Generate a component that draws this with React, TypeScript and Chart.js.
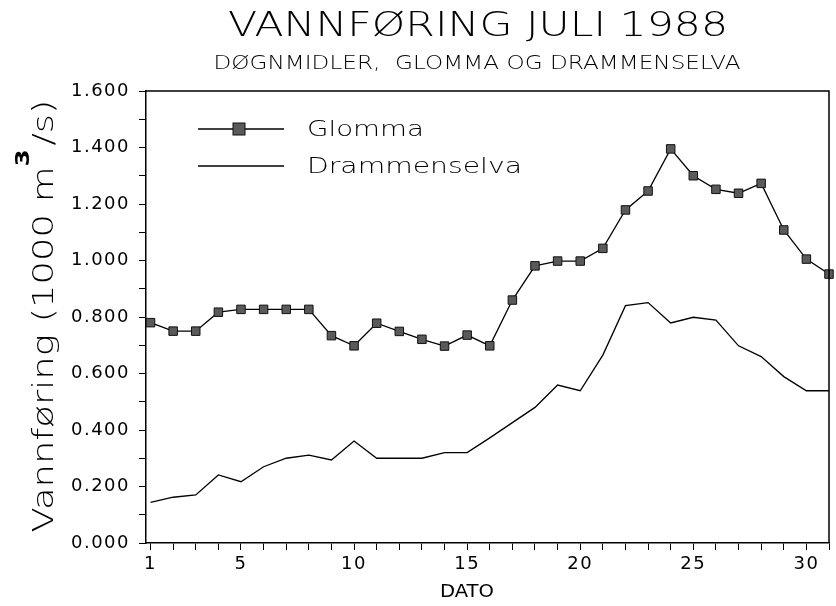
import React, { useEffect, useRef } from 'react';
import { Chart, registerables } from 'chart.js';

Chart.register(...registerables);

// ---- data ----
const days = [1, 2, 3, 4, 5, 6, 7, 8, 9, 10, 11, 12, 13, 14, 15, 16, 17, 18, 19, 20, 21, 22, 23, 24, 25, 26, 27, 28, 29, 30, 31];
const glomma = [0.78, 0.75, 0.75, 0.817, 0.827, 0.827, 0.827, 0.827, 0.734, 0.698, 0.778, 0.749, 0.721, 0.697, 0.736, 0.698, 0.86, 0.981, 0.998, 0.998, 1.043, 1.179, 1.246, 1.395, 1.3, 1.252, 1.238, 1.273, 1.108, 1.005, 0.952];
const drammenselva = [0.144, 0.162, 0.17, 0.241, 0.217, 0.27, 0.3, 0.311, 0.294, 0.361, 0.3, 0.3, 0.3, 0.32, 0.32, 0.372, 0.426, 0.48, 0.559, 0.539, 0.665, 0.84, 0.851, 0.779, 0.799, 0.789, 0.698, 0.66, 0.589, 0.539, 0.539];
const xLabelDays = [1, 5, 10, 15, 20, 25, 30];
const yTickValues = [0, 0.1, 0.2, 0.3, 0.4, 0.5, 0.6, 0.7, 0.8, 0.9, 1.0, 1.1, 1.2, 1.3, 1.4, 1.5, 1.6];
const yTickLabels = ['0.000', '0.200', '0.400', '0.600', '0.800', '1.000', '1.200', '1.400', '1.600'];
const seriesNames = ['Glomma', 'Drammenselva'];
const titleText = 'VANNFØRING JULI 1988';
const subtitleText = 'DØGNMIDLER,  GLOMMA OG DRAMMENSELVA';
const xTitleText = 'DATO';
const yTitleMain = 'Vannføring (1000 m';
const yTitleSup = '3';
const yTitleEnd = '/s)';

const FAMILY = "'DejaVu Sans', 'Liberation Sans', sans-serif";
const LIGHT = '200';

// draws text horizontally stretched to a given visual width
function fitText(ctx: CanvasRenderingContext2D, text: string, x: number, y: number, size: number, width: number, center: boolean, weight = LIGHT) {
  ctx.save();
  ctx.font = `${weight} ${size}px ${FAMILY}`;
  (ctx as any).letterSpacing = '0px';
  const w = ctx.measureText(text).width;
  const sx = width / w;
  ctx.translate(center ? x - width / 2 : x, y);
  ctx.scale(sx, 1);
  ctx.textAlign = 'left';
  ctx.textBaseline = 'middle';
  ctx.fillStyle = '#000';
  ctx.fillText(text, 0, 0);
  ctx.restore();
}

const framePlugin = {
  id: 'frame',
  beforeDraw(chart: any) {
    chart.ctx.letterSpacing = '1.5px';
  },
  afterDatasetsDraw(chart: any) {
    const { ctx, chartArea: a } = chart;
    ctx.save();
    ctx.strokeStyle = '#000';
    ctx.lineWidth = 1.5;
    ctx.beginPath();
    ctx.moveTo(a.left, a.top);
    ctx.lineTo(a.right, a.top);
    ctx.lineTo(a.right, a.bottom);
    ctx.stroke();
    ctx.restore();
  },
};

const textPlugin = {
  id: 'texts',
  afterDraw(chart: any) {
    const ctx: CanvasRenderingContext2D = chart.ctx;
    const a = chart.chartArea;
    // titles
    fitText(ctx, titleText, 478, 27, 34, 500, true);
    fitText(ctx, subtitleText, 477, 64, 19, 527, true);
    // x title
    fitText(ctx, xTitleText, 467, 593, 17, 54, true, '400');

    // y title (rotated)
    ctx.save();
    ctx.translate(53, 316);
    ctx.rotate(-Math.PI / 2);
    ctx.fillStyle = '#000';
    ctx.textAlign = 'left';
    ctx.textBaseline = 'alphabetic';
    (ctx as any).letterSpacing = '0px';
    const mainFont = `${LIGHT} 29px ${FAMILY}`;
    const supFont = `bold 19px ${FAMILY}`;
    const gap = 3;
    ctx.font = mainFont;
    const w1 = ctx.measureText(yTitleMain).width;
    const w3 = ctx.measureText(yTitleEnd).width;
    ctx.font = supFont;
    const w2 = ctx.measureText(yTitleSup).width + gap;
    const total = 433;
    const sx = total / (w1 + w2 + w3);
    ctx.translate(-total / 2, 0);
    ctx.scale(sx, 1);
    let u = 0;
    ctx.font = mainFont;
    ctx.fillText(yTitleMain, u, 0);
    u += w1;
    ctx.font = supFont;
    ctx.fillText(yTitleSup, u, -24);
    u += w2;
    ctx.font = mainFont;
    ctx.fillText(yTitleEnd, u, 0);
    ctx.restore();

    // legend
    const ds = chart.data.datasets;
    const legendX0 = a.left + 52;
    const legendX1 = a.left + 138;
    const legendTextX = a.left + 161;
    const legendWidths = [117, 215];
    ds.forEach((d: any, i: number) => {
      const y = a.top + 38 + i * 37;
      ctx.save();
      ctx.strokeStyle = d.borderColor;
      ctx.lineWidth = d.borderWidth;
      ctx.beginPath();
      ctx.moveTo(legendX0, y);
      ctx.lineTo(legendX1, y);
      ctx.stroke();
      if (d.pointRadius > 0) {
        const s = 12;
        const cx = (legendX0 + legendX1) / 2 - 2;
        ctx.fillStyle = d.pointBackgroundColor;
        ctx.strokeStyle = d.pointBorderColor;
        ctx.lineWidth = 1;
        ctx.fillRect(cx - s / 2, y - s / 2, s, s);
        ctx.strokeRect(cx - s / 2, y - s / 2, s, s);
      }
      ctx.restore();
      fitText(ctx, d.label, legendTextX, y + 1, 22, legendWidths[i], false);
    });
  },
};

export default function App() {
  const ref = useRef<HTMLCanvasElement>(null);
  useEffect(() => {
    document.body.style.margin = '0';
    const tickFont = { family: FAMILY, size: 18, weight: '400' as any };
    const chart = new Chart(ref.current as HTMLCanvasElement, {
      type: 'line',
      data: {
        datasets: [
          {
            label: seriesNames[0],
            data: days.map((d, i) => ({ x: d, y: glomma[i] })),
            borderColor: '#000',
            borderWidth: 1.3,
            pointStyle: 'rect',
            pointRadius: 6,
            pointBackgroundColor: '#5a5a5a',
            pointBorderColor: '#111',
            pointBorderWidth: 1,
            tension: 0,
            clip: false as any,
          },
          {
            label: seriesNames[1],
            data: days.map((d, i) => ({ x: d, y: drammenselva[i] })),
            borderColor: '#000',
            borderWidth: 1.3,
            pointRadius: 0,
            tension: 0,
            clip: false as any,
          },
        ],
      },
      options: {
        responsive: false,
        animation: false,
        layout: { padding: { top: 91, right: 2, left: 0, bottom: 0 } },
        plugins: {
          legend: { display: false },
          title: { display: false },
          tooltip: { enabled: false },
        },
        scales: {
          x: {
            type: 'linear',
            min: 0.8,
            max: 31,
            afterBuildTicks: (s: any) => {
              s.ticks = days.map((d) => ({ value: d }));
            },
            afterFit: (s: any) => {
              s.height = 63;
            },
            grid: { drawOnChartArea: false, drawTicks: true, tickLength: 7, color: '#000', lineWidth: 1 },
            border: { display: true, color: '#000', width: 1.5 },
            ticks: {
              autoSkip: false,
              maxRotation: 0,
              padding: 4,
              color: '#000',
              font: tickFont,
              callback: (v: any) => (xLabelDays.includes(Number(v)) ? String(v) : ''),
            },
          },
          y: {
            type: 'linear',
            min: 0,
            max: 1.6,
            afterBuildTicks: (s: any) => {
              s.ticks = yTickValues.map((v) => ({ value: v }));
            },
            afterFit: (s: any) => {
              s.width = 146;
            },
            grid: { drawOnChartArea: false, drawTicks: true, tickLength: 7, color: '#000', lineWidth: 1 },
            border: { display: true, color: '#000', width: 1.5 },
            ticks: {
              autoSkip: false,
              padding: 9,
              color: '#000',
              font: tickFont,
              callback: (v: any) => {
                const k = Math.round(Number(v) * 10);
                return k % 2 === 0 ? yTickLabels[k / 2] : '';
              },
            },
          },
        },
      },
      plugins: [framePlugin, textPlugin],
    });
    return () => chart.destroy();
  }, []);
  return (
    <div style={{ width: 836, height: 606 }}>
      <canvas ref={ref} width={836} height={606} style={{ display: 'block' }} />
    </div>
  );
}
